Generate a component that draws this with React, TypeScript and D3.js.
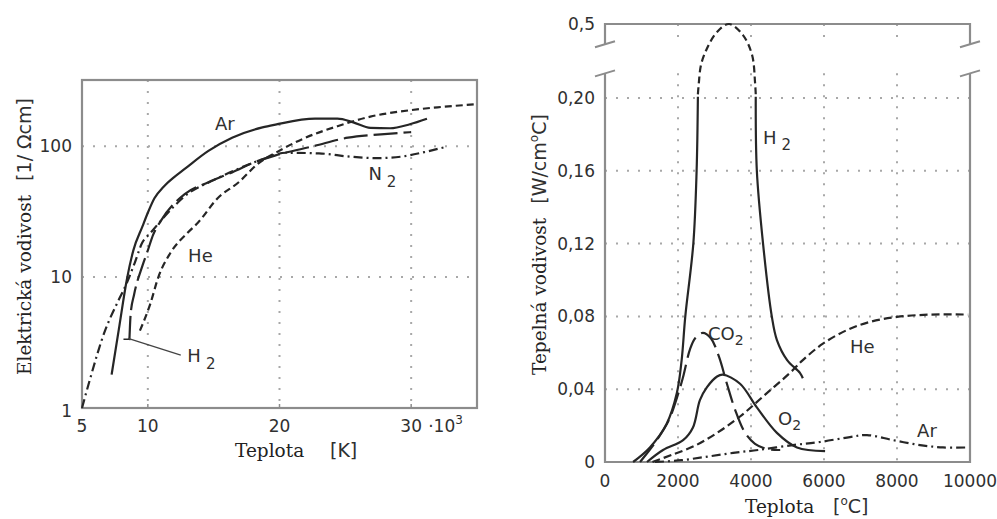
import React from 'react';
import * as d3 from 'd3';

const W = 997;
const H = 519;

// ---------- Left chart: electrical conductivity (log) vs temperature [10^3 K]
const leftXTicks = [5, 10, 20, 30];
const leftYTicks = [1, 10, 100];
const leftXGrid = [10, 20, 30];
const leftYGrid = [10, 100];

const arLeft: [number, number][] = [
  [7.25, 1.8], [7.8, 4], [8.4, 9.5], [8.9, 16], [9.6, 24.5], [10.0, 31], [10.5, 40],
  [11.2, 49], [12.0, 58], [12.8, 67], [14.6, 92], [16.4, 116], [18.7, 139], [19.7, 146],
  [22.7, 162], [24.4, 162], [25.6, 152], [26.9, 138], [28.4, 137], [29.9, 147], [31.2, 162],
];
const heLeft: [number, number][] = [
  [9.4, 3.9], [10.2, 6.3], [10.8, 10], [11.7, 15.2], [13, 21.7], [13.8, 26], [15.3, 40],
  [16.9, 53], [18.4, 74], [19.8, 90], [21.8, 114], [24.4, 142], [26.9, 168],
  [29.9, 188], [32, 198], [35, 209],
];
const h2Left: [number, number][] = [
  [8.6, 3.3], [8.7, 5.3], [8.95, 7.3], [9.6, 12.3], [10.0, 16], [10.4, 21], [11.0, 27],
  [12.8, 43], [14.6, 53], [16.4, 63], [18.2, 76], [19.7, 85], [22.6, 100],
  [25.2, 116], [27.7, 123], [30, 128],
];
const n2Left: [number, number][] = [
  [5, 1], [5.6, 1.65], [6.75, 3.9], [7.66, 6.3], [8.4, 9], [9.0, 12.8], [9.56, 18.2],
  [10.2, 21.7], [11, 27], [13, 43], [15, 55], [17, 68], [18.5, 78], [20.5, 89],
  [23, 88], [25.4, 83], [27.3, 81], [29.2, 83], [31, 90], [32.5, 98],
];

// ---------- Right chart: thermal conductivity vs temperature [°C]
const rightXTicks = [0, 2000, 4000, 6000, 8000, 10000];
const rightYTicks = [0, 0.04, 0.08, 0.12, 0.16, 0.2];
const rightYTickLabels = ['0', '0,04', '0,08', '0,12', '0,16', '0,20'];
const rightTopTick = 0.5;
const rightTopTickLabel = '0,5';
const rightXGrid = [2000, 4000, 6000, 8000];
const rightYGrid = [0.04, 0.08, 0.12, 0.16, 0.2];
const breakLowValue = 0.3;
const breakHighValue = 0.418;

const h2RightRise: [number, number][] = [
  [770, 0], [1230, 0.008], [1690, 0.021], [1970, 0.038], [2100, 0.056], [2200, 0.08],
  [2420, 0.12], [2510, 0.16], [2545, 0.205],
];
const h2RightPeak: [number, number][] = [
  [2545, 0.215], [2570, 0.26], [2630, 0.334], [2800, 0.403], [3070, 0.468],
  [3400, 0.5], [3780, 0.455], [4030, 0.374], [4110, 0.265], [4130, 0.215],
];
const h2RightFall: [number, number][] = [
  [4130, 0.205], [4160, 0.16], [4330, 0.12], [4570, 0.08], [4710, 0.067],
  [4990, 0.056], [5340, 0.049], [5420, 0.046],
];
const co2Right: [number, number][] = [
  [960, 0], [1420, 0.012], [1750, 0.023], [1950, 0.034], [2130, 0.046], [2330, 0.062],
  [2470, 0.068], [2680, 0.071], [2900, 0.068], [3120, 0.058], [3340, 0.043],
  [3560, 0.029], [3840, 0.016], [4110, 0.010], [4470, 0.007], [4800, 0.0066],
];
const o2Right: [number, number][] = [
  [1150, 0], [1590, 0.0066], [2140, 0.012], [2410, 0.019], [2600, 0.034],
  [2790, 0.041], [3070, 0.047], [3230, 0.048], [3700, 0.043], [4160, 0.030],
  [4710, 0.016], [5260, 0.008], [6030, 0.006],
];
const heRight: [number, number][] = [
  [1300, 0], [1840, 0.004], [2470, 0.009], [3070, 0.016], [3700, 0.025], [4330, 0.036],
  [5070, 0.049], [5420, 0.056], [5970, 0.065], [6630, 0.0725], [7260, 0.077],
  [8000, 0.0797], [8900, 0.081], [9950, 0.081],
];
const arRight: [number, number][] = [
  [1370, 0], [2100, 0.001], [2820, 0.003], [3510, 0.005], [4190, 0.0066],
  [5150, 0.0093], [5890, 0.011], [6710, 0.0137], [7180, 0.0148], [7890, 0.012],
  [8630, 0.0093], [9260, 0.008], [9950, 0.008],
];

const SANS = 'DejaVu Sans';
const SERIF = 'DejaVu Serif';
const CURVE = '#262626';
const BOX = '#8c8c8c';
const GRID = '#a8a8a8';
const TXT = '#303030';
const SW = 2.2;

export default function App() {
  // Left scales
  const lx = d3.scaleLinear().domain([5, 35]).range([82, 477]);
  const ly = d3.scaleLog().domain([1, 320]).range([408, 80]);
  const lLine = d3
    .line<[number, number]>()
    .x((d) => lx(d[0]))
    .y((d) => ly(d[1]))
    .curve(d3.curveMonotoneX);

  // Right scales (broken axis: linear 0..0.2, compressed 0.2..0.5)
  const rx = d3.scaleLinear().domain([0, 10000]).range([605, 970]);
  const ry = d3.scaleLinear().domain([0, 0.2, 0.5]).range([462, 98, 24]);
  const rLine = d3
    .line<[number, number]>()
    .x((d) => rx(d[0]))
    .y((d) => ry(d[1]))
    .curve(d3.curveCatmullRom.alpha(0.5));

  const [lx0, lx1] = lx.range();
  const [ly0, ly1] = ly.range();
  const rxl = rx(0);
  const rxr = rx(10000);
  const ryBottom = ry(0);
  const ryTop = ry(rightTopTick);
  const yBreakLow = ry(breakLowValue);
  const yBreakHigh = ry(breakHighValue);

  const breakMark = (cx: number, cy: number, key: string) => (
    <line key={key} x1={cx - 10} y1={cy + 3} x2={cx + 10} y2={cy - 3} stroke={BOX} strokeWidth={2} />
  );

  return (
    <svg
      width={W}
      height={H}
      viewBox={`0 0 ${W} ${H}`}
      style={{ position: 'absolute', left: 0, top: 0, background: '#fff' }}
    >
      <rect x={0} y={0} width={W} height={H} fill="#fff" />

      {/* ================= LEFT CHART ================= */}
      <g>
        {leftXGrid.map((t) => (
          <line key={'lxg' + t} x1={lx(t)} x2={lx(t)} y1={ly1} y2={ly0} stroke={GRID} strokeWidth={2} strokeDasharray="2,9" />
        ))}
        {leftYGrid.map((v) => (
          <line key={'lyg' + v} x1={lx0} x2={lx1} y1={ly(v)} y2={ly(v)} stroke={GRID} strokeWidth={2} strokeDasharray="2,9" />
        ))}
        <rect x={lx0} y={ly1} width={lx1 - lx0} height={ly0 - ly1} fill="none" stroke={BOX} strokeWidth={2.2} />
        {leftXTicks.map((t) => (
          <line key={'lxt' + t} x1={lx(t)} x2={lx(t)} y1={ly0} y2={ly0 - 4} stroke={BOX} strokeWidth={1.5} />
        ))}

        <path d={lLine(arLeft) || ''} fill="none" stroke={CURVE} strokeWidth={SW} />
        <path d={lLine(heLeft) || ''} fill="none" stroke={CURVE} strokeWidth={SW} strokeDasharray="7,4" />
        <path d={lLine(h2Left) || ''} fill="none" stroke={CURVE} strokeWidth={SW} strokeDasharray="24,6" />
        <path d={lLine(n2Left) || ''} fill="none" stroke={CURVE} strokeWidth={SW} strokeDasharray="9,4,2,4" />
        {/* H2 leader */}
        <line x1={lx(8.15)} y1={ly(3.35)} x2={lx(8.65)} y2={ly(3.35)} stroke={CURVE} strokeWidth={1.5} />
        <line x1={lx(8.5)} y1={ly(3.4)} x2={lx(12.5)} y2={ly(2.53)} stroke="#444" strokeWidth={1.3} />

        {/* tick labels */}
        {leftXTicks.map((t) => (
          <text key={'lxl' + t} x={lx(t)} y={432} textAnchor="middle" fontFamily={SANS} fontSize={17} fill={TXT}>
            {t}
          </text>
        ))}
        <text x={lx(30) + 17} y={432} fontFamily={SANS} fontSize={17} fill={TXT}>
          ·10<tspan fontSize={12} dy={-8}>3</tspan>
        </text>
        {leftYTicks.map((v) => (
          <text key={'lyl' + v} x={72} y={ly(v) + 6 + (v === 1 ? 3 : 0)} textAnchor="end" fontFamily={SANS} fontSize={17} fill={TXT}>
            {v}
          </text>
        ))}

        {/* curve labels */}
        <text x={lx(15.1)} y={ly(132)} fontFamily={SANS} fontSize={18} fill={TXT}>Ar</text>
        <text x={lx(13.06)} y={ly(13)} fontFamily={SANS} fontSize={18} fill={TXT}>He</text>
        <text x={lx(26.75)} y={ly(55)} fontFamily={SANS} fontSize={18} fill={TXT}>
          N<tspan dx={5} dy={7} fontSize={15}>2</tspan>
        </text>
        <text x={lx(13.0)} y={ly(2.24)} fontFamily={SANS} fontSize={18} fill={TXT}>
          H<tspan dx={5} dy={7} fontSize={15}>2</tspan>
        </text>

        {/* axis titles */}
        <text x={235} y={457} fontFamily={SERIF} fontSize={18.5} fill="#222">
          Teplota
          <tspan x={330} fontFamily={SANS} fontSize={19} fill={TXT}>[K]</tspan>
        </text>
        <text transform="translate(31,375) rotate(-90)" fontFamily={SERIF} fontSize={18.5} fill="#222">
          Elektrická vodivost
          <tspan dx={14} fontFamily={SANS} fontSize={19} fill={TXT}>[1/ Ωcm]</tspan>
        </text>
      </g>

      {/* ================= RIGHT CHART ================= */}
      <g>
        {rightXGrid.map((t) => (
          <g key={'rxg' + t}>
            <line x1={rx(t)} x2={rx(t)} y1={ryTop} y2={yBreakHigh} stroke={GRID} strokeWidth={2} strokeDasharray="2,9" />
            <line x1={rx(t)} x2={rx(t)} y1={yBreakLow} y2={ryBottom} stroke={GRID} strokeWidth={2} strokeDasharray="2,9" />
          </g>
        ))}
        {rightYGrid.map((v) => (
          <line key={'ryg' + v} x1={rxl} x2={rxr} y1={ry(v)} y2={ry(v)} stroke={GRID} strokeWidth={2} strokeDasharray="2,9" />
        ))}
        {/* frame with axis break */}
        <line x1={rxl} x2={rxr} y1={ryTop} y2={ryTop} stroke={BOX} strokeWidth={2.2} />
        <line x1={rxl} x2={rxr} y1={ryBottom} y2={ryBottom} stroke={BOX} strokeWidth={2.2} />
        {[rxl, rxr].map((x, i) => (
          <g key={'rv' + i}>
            <line x1={x} x2={x} y1={ryTop - 1} y2={yBreakHigh} stroke={BOX} strokeWidth={2.2} />
            <line x1={x} x2={x} y1={yBreakLow} y2={ryBottom + 1} stroke={BOX} strokeWidth={2.2} />
            {breakMark(x, yBreakHigh, 'bh' + i)}
            {breakMark(x, yBreakLow, 'bl' + i)}
          </g>
        ))}

        <path d={rLine(h2RightRise) || ''} fill="none" stroke={CURVE} strokeWidth={SW} />
        <path d={rLine(h2RightPeak) || ''} fill="none" stroke={CURVE} strokeWidth={SW} strokeDasharray="7,4" />
        <path d={rLine(h2RightFall) || ''} fill="none" stroke={CURVE} strokeWidth={SW} />
        <path d={rLine(co2Right) || ''} fill="none" stroke={CURVE} strokeWidth={SW} strokeDasharray="22,7" />
        <path d={rLine(o2Right) || ''} fill="none" stroke={CURVE} strokeWidth={SW} />
        <path d={rLine(heRight) || ''} fill="none" stroke={CURVE} strokeWidth={SW} strokeDasharray="8,4" />
        <path d={rLine(arRight) || ''} fill="none" stroke={CURVE} strokeWidth={SW} strokeDasharray="9,4,2,4" />

        {/* tick labels */}
        {rightXTicks.map((t) => (
          <text key={'rxl' + t} x={rx(t)} y={487} textAnchor="middle" fontFamily={SANS} fontSize={17} fill={TXT}>
            {t}
          </text>
        ))}
        {rightYTicks.map((v, i) => (
          <text key={'ryl' + v} x={595} y={ry(v) + 6} textAnchor="end" fontFamily={SANS} fontSize={17} fill={TXT}>
            {rightYTickLabels[i]}
          </text>
        ))}
        <text x={595} y={ry(rightTopTick) + 6} textAnchor="end" fontFamily={SANS} fontSize={17} fill={TXT}>
          {rightTopTickLabel}
        </text>

        {/* curve labels */}
        <text x={rx(4330)} y={ry(0.175)} fontFamily={SANS} fontSize={18} fill={TXT}>
          H<tspan dx={5} dy={6} fontSize={15}>2</tspan>
        </text>
        <text x={rx(2820)} y={ry(0.067)} fontFamily={SANS} fontSize={18} fill={TXT}>
          CO<tspan dy={5} fontSize={14}>2</tspan>
        </text>
        <text x={rx(6710)} y={ry(0.06)} fontFamily={SANS} fontSize={18} fill={TXT}>He</text>
        <text x={rx(4740)} y={ry(0.0203)} fontFamily={SANS} fontSize={18} fill={TXT}>
          O<tspan dy={5} fontSize={14}>2</tspan>
        </text>
        <text x={rx(8550)} y={ry(0.0137)} fontFamily={SANS} fontSize={18} fill={TXT}>Ar</text>

        {/* axis titles */}
        <text x={745} y={513} fontFamily={SERIF} fontSize={18.5} fill="#222">
          Teplota
          <tspan x={833} fontFamily={SANS} fontSize={19} fill={TXT}>[</tspan>
          <tspan fontFamily={SANS} fontSize={12} dy={-8} fill={TXT}>o</tspan>
          <tspan fontFamily={SANS} fontSize={19} dy={8} fill={TXT}>C]</tspan>
        </text>
        <text transform="translate(546,375) rotate(-90)" fontFamily={SERIF} fontSize={18.5} fill="#222">
          Tepelná vodivost
          <tspan dx={14} fontFamily={SANS} fontSize={19} fill={TXT}>[W/cm</tspan>
          <tspan fontFamily={SANS} fontSize={12} dy={-8} fill={TXT}>o</tspan>
          <tspan fontFamily={SANS} fontSize={19} dy={8} fill={TXT}>C]</tspan>
        </text>
      </g>
    </svg>
  );
}
